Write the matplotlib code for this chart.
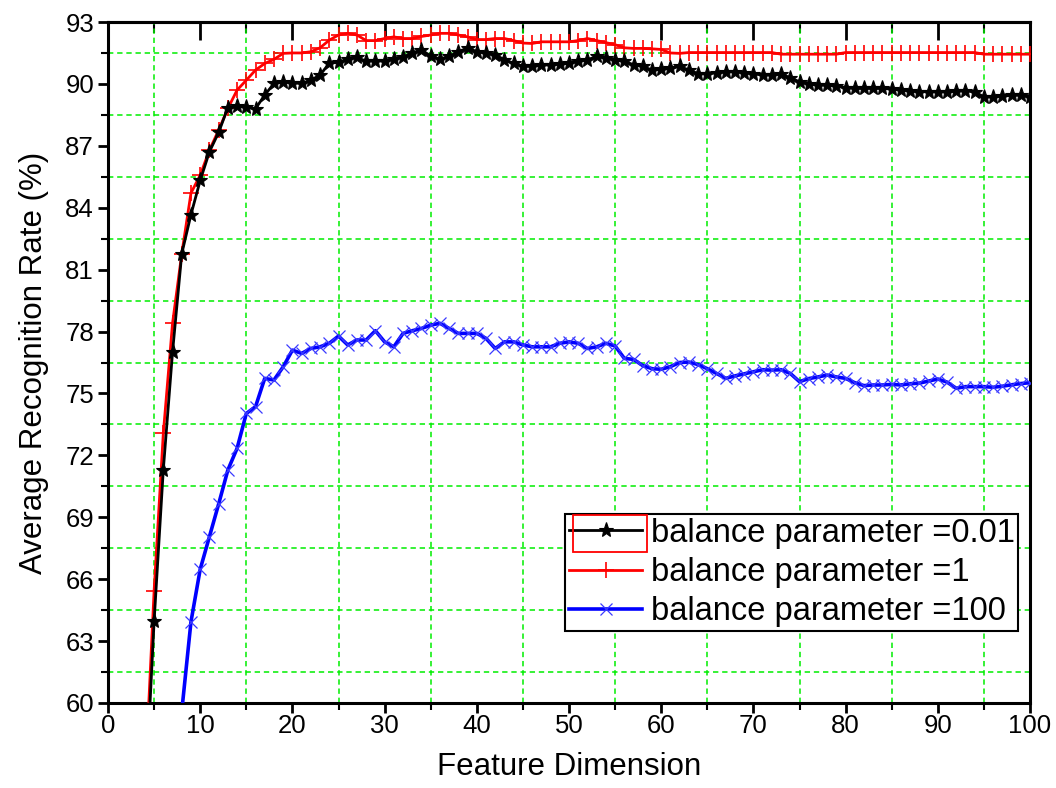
import numpy as np
import matplotlib
matplotlib.use('Agg')
import matplotlib.pyplot as plt
from matplotlib.patches import Rectangle
from matplotlib.ticker import FixedLocator

plt.rcParams['font.family'] = ['Liberation Sans', 'DejaVu Sans']

# Feature dimension for each series
dims_black = np.arange(4, 101)
dims_red = np.arange(4, 101)
dims_blue = np.arange(8, 101)

# balance parameter = 0.01
rate_001 = [55.0, 63.95, 71.31, 77.0, 81.77, 83.67, 85.32, 86.71, 87.65, 88.85,
            88.92, 88.86, 88.8, 89.46, 90.02, 90.1, 90.05, 90.02, 90.18, 90.43,
            91.0, 91.05, 91.2, 91.28, 91.1, 91.12, 91.1, 91.2, 91.3, 91.5,
            91.65, 91.35, 91.2, 91.33, 91.57, 91.73, 91.57, 91.49, 91.41, 91.17,
            91.0, 90.85, 90.85, 90.9, 90.93, 90.96, 91.0, 91.09, 91.17, 91.33,
            91.25, 91.17, 91.09, 90.93, 90.85, 90.67, 90.7, 90.75, 90.85, 90.67,
            90.5, 90.5, 90.55, 90.6, 90.6, 90.55, 90.5, 90.43, 90.43, 90.48,
            90.3, 90.1, 90.0, 89.94, 89.94, 89.9, 89.82, 89.78, 89.78, 89.78,
            89.78, 89.75, 89.7, 89.67, 89.62, 89.62, 89.62, 89.62, 89.65, 89.67,
            89.62, 89.37, 89.37, 89.41, 89.44, 89.46, 89.37]

# balance parameter = 1
rate_1 = [56.0, 65.43, 73.07, 78.4, 81.77, 84.71, 85.58, 86.79, 87.76, 88.81,
          89.7, 90.18, 90.67, 90.99, 91.19, 91.48, 91.5, 91.5, 91.56, 91.75,
          92.12, 92.37, 92.45, 92.37, 92.1, 92.1, 92.2, 92.28, 92.2, 92.2,
          92.3, 92.37, 92.45, 92.45, 92.37, 92.28, 92.15, 92.15, 92.2, 92.2,
          92.1, 91.98, 91.96, 92.04, 92.04, 92.04, 92.04, 92.1, 92.2, 92.1,
          92.0, 91.9, 91.75, 91.72, 91.72, 91.7, 91.67, 91.5, 91.48, 91.52,
          91.52, 91.52, 91.52, 91.52, 91.52, 91.52, 91.52, 91.52, 91.52, 91.44,
          91.44, 91.44, 91.44, 91.44, 91.44, 91.44, 91.52, 91.52, 91.52, 91.52,
          91.52, 91.52, 91.52, 91.52, 91.52, 91.52, 91.52, 91.52, 91.52, 91.52,
          91.52, 91.44, 91.44, 91.44, 91.44, 91.44, 91.44]

# balance parameter = 100
rate_100 = [59.6, 63.94, 66.48, 68.06, 69.64, 71.29, 72.34, 74.03, 74.36, 75.73,
            75.65, 76.29, 77.1, 76.94, 77.18, 77.26, 77.43, 77.78, 77.35, 77.59,
            77.59, 78.04, 77.5, 77.26, 77.91, 78.04, 78.15, 78.31, 78.4, 78.15,
            77.91, 77.91, 77.91, 77.67, 77.18, 77.5, 77.5, 77.35, 77.26, 77.26,
            77.26, 77.43, 77.5, 77.43, 77.18, 77.26, 77.43, 77.3, 76.7, 76.65,
            76.35, 76.2, 76.17, 76.3, 76.5, 76.52, 76.4, 76.2, 75.97, 75.73,
            75.85, 75.95, 76.05, 76.15, 76.13, 76.15, 75.97, 75.57, 75.72, 75.8,
            75.89, 75.8, 75.73, 75.52, 75.38, 75.41, 75.41, 75.44, 75.41, 75.47,
            75.5, 75.6, 75.7, 75.55, 75.25, 75.33, 75.33, 75.33, 75.3, 75.35,
            75.42, 75.48, 75.52]

labels = ['balance parameter =0.01', 'balance parameter =1', 'balance parameter =100']

x_major = np.arange(0, 101, 10)
x_minor = np.arange(5, 100, 10)
y_major = np.arange(60, 94, 3)
y_minor = np.arange(61.5, 93, 3)

fig = plt.figure(figsize=(10.56, 7.88), dpi=100)
ax = fig.add_axes([108 / 1056, 1 - 703 / 788, 922 / 1056, 681 / 788])

ax.plot(dims_black, rate_001, color='black', linewidth=2.0, marker='*',
        markersize=11, markeredgewidth=0.8, label=labels[0], zorder=4)
ax.plot(dims_red, rate_1, color='red', linewidth=2.0, marker='+',
        markersize=11, markeredgewidth=1.2, label=labels[1], zorder=3)
ax.plot(dims_blue, rate_100, color='blue', linewidth=2.6, marker='x',
        markersize=9, markeredgewidth=0.9, markeredgecolor='#3a3aff',
        label=labels[2], zorder=3)

ax.set_xlim(0, 100)
ax.set_ylim(60, 93)
ax.xaxis.set_major_locator(FixedLocator(x_major))
ax.xaxis.set_minor_locator(FixedLocator(x_minor))
ax.yaxis.set_major_locator(FixedLocator(y_major))
ax.yaxis.set_minor_locator(FixedLocator(y_minor))

# green dashed grid on the minor positions only
ax.grid(which='major', visible=False)
ax.grid(which='minor', visible=True, color='#00ee00', linestyle=(0, (3.5, 2.5)),
        linewidth=1.1)
ax.set_axisbelow(True)

for side in ['left', 'right', 'top', 'bottom']:
    ax.spines[side].set_linewidth(2.2)

ax.tick_params(axis='both', which='major', direction='out', length=7, width=2,
               labelsize=18.5, right=False, top=False, pad=3)
ax.tick_params(axis='x', which='major', pad=1)
ax.tick_params(axis='both', which='minor', direction='out', length=5, width=1.5,
               right=False, top=False)

# top axis with inward ticks
top = ax.secondary_xaxis('top')
top.xaxis.set_major_locator(FixedLocator(x_major))
top.xaxis.set_minor_locator(FixedLocator(x_minor))
top.tick_params(which='major', direction='in', length=13, width=2, labeltop=False)
top.tick_params(which='minor', direction='in', length=8, width=1.5)
top.spines['top'].set_linewidth(2.2)

ax.set_xlabel('Feature Dimension', fontsize=22.5, labelpad=10)
ax.set_ylabel('Average Recognition Rate (%)', fontsize=22.5, labelpad=12)

leg = ax.legend(loc='upper left', bbox_to_anchor=(565 / 1056, 1 - 514 / 788),
                bbox_transform=fig.transFigure, borderaxespad=0, fontsize=23.5,
                numpoints=1, handlelength=2.25, handletextpad=0.25,
                labelspacing=0.25, borderpad=0.12, fancybox=False,
                framealpha=1, edgecolor='black')
leg.get_frame().set_linewidth(1.5)

# red selection box around the first legend handle
fig.add_artist(Rectangle((573 / 1056, 1 - 552 / 788), 74 / 1056, 37 / 788,
                         transform=fig.transFigure, fill=False,
                         edgecolor='red', linewidth=1.3, zorder=10))

plt.savefig('out.png', dpi=100)
plt.close()
